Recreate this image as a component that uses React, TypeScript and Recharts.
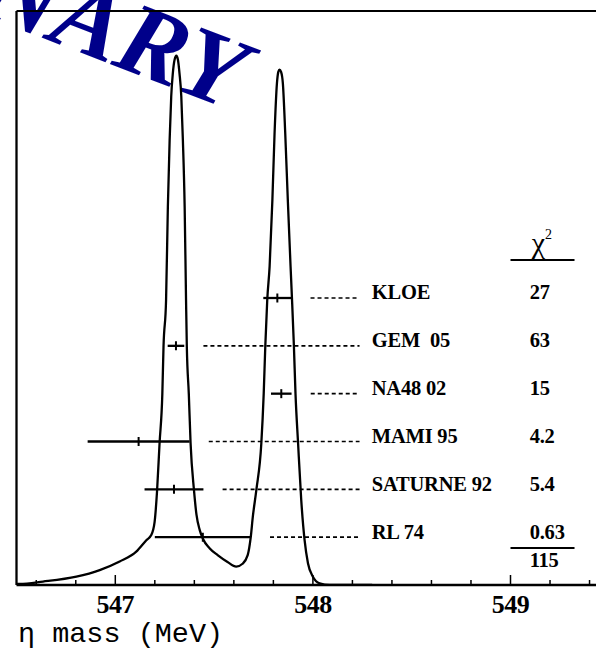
import React from 'react';
import { ComposedChart, Line, Scatter, XAxis, YAxis, ErrorBar, ReferenceLine } from 'recharts';

// Ideogram curve (eta mass in MeV, relative density)
const CURVE_MASS = [
  546.5, 546.516, 546.634, 546.803, 546.921, 547.022, 547.106, 547.157, 547.182, 547.199,
  547.211, 547.224, 547.238, 547.244, 547.257, 547.266, 547.275, 547.283, 547.291, 547.3,
  547.309, 547.317, 547.325, 547.334, 547.342, 547.351, 547.358, 547.362, 547.372, 547.381,
  547.398, 547.411, 547.427, 547.444, 547.477, 547.518, 547.568, 547.612, 547.644, 547.67,
  547.685, 547.696, 547.714, 547.739, 547.751, 547.759, 547.769, 547.781, 547.795, 547.806,
  547.818, 547.825, 547.831, 547.839, 547.848, 547.86, 547.873, 547.887, 547.894, 547.904,
  547.912, 547.925, 547.941, 547.958, 547.975, 548.0, 548.034, 548.085, 548.3,
];
const CURVE_DENSITY = [
  0.002, 0.002, 0.006, 0.0145, 0.026, 0.041, 0.058, 0.078, 0.087, 0.11,
  0.162, 0.247, 0.333, 0.415, 0.497, 0.659, 0.775, 0.851, 0.891, 0.915,
  0.922, 0.915, 0.891, 0.851, 0.775, 0.659, 0.497, 0.415, 0.333, 0.247,
  0.166, 0.122, 0.096, 0.08, 0.064, 0.052, 0.04, 0.032, 0.037, 0.052,
  0.082, 0.119, 0.166, 0.247, 0.333, 0.415, 0.497, 0.555, 0.671, 0.787,
  0.874, 0.894, 0.898, 0.894, 0.874, 0.787, 0.671, 0.555, 0.5, 0.415,
  0.333, 0.247, 0.148, 0.078, 0.038, 0.0145, 0.003, 0.0, 0.0,
];

// Measurements
const EXPERIMENTS = ['KLOE', 'GEM  05', 'NA48 02', 'MAMI 95', 'SATURNE 92', 'RL 74'];
const EXP_MASS = [547.82, 547.307, 547.84, 547.118, 547.297, 547.443];
const EXP_ERR = [0.071, 0.042, 0.052, 0.258, 0.149, 0.243];
const EXP_ROW = [6, 5, 4, 3, 2, 1];
const CHI2 = ['27', '63', '15', '4.2', '5.4', '0.63'];
const CHI2_TOTAL = '115';

const X_TICKS = [
  546.6, 546.8, 547, 547.2, 547.4, 547.6, 547.8, 548, 548.2, 548.4, 548.6, 548.8, 549, 549.2, 549.4,
];
const MAJOR_TICKS = [547, 548, 549];

// layout constants (in axis units)
const X_DOMAIN = [546.5, 549.5];
const ROW_DOMAIN = [0, 12];
const LEADER_GAP = 0.097;
const LEADER_END = 548.236;
const LABEL_X = 548.298;
const CHI_X = 549.097;
const CHI_HEADER_ROW = 6.94;
const CHI_TOTAL_ROW = 0.4;
const CHI_RULE_ROWS = [6.795, 0.774];
const CHI_RULE_X = [549.0, 549.324];

const SERIF = '"Liberation Serif", "Times New Roman", serif';
const CHART_W = 609.3;

const MassTick = (props: any) => {
  const { x, y, payload } = props;
  const major = MAJOR_TICKS.some((t) => Math.abs(t - payload.value) < 1e-6);
  return (
    <g>
      <line x1={x} x2={x} y1={y} y2={y - (major ? 10 : 5)} stroke="#000" strokeWidth={1.5} />
      {major && (
        <text x={x} y={y + 28} textAnchor="middle" fontFamily={SERIF} fontWeight="bold" fontSize={26} fill="#000" letterSpacing={-0.5}>
          {payload.value}
        </text>
      )}
    </g>
  );
};

const CenterTick = (props: any) => {
  const { cx, cy } = props;
  if (cx == null || cy == null) return null;
  return <line x1={cx} x2={cx} y1={cy - 4.5} y2={cy + 4.5} stroke="#000" strokeWidth={2} />;
};

const TextMark = (props: any) => {
  const { cx, cy, payload } = props;
  if (cx == null || cy == null) return null;
  if (payload.sup) {
    return (
      <text x={cx + 2} y={cy} fontFamily={SERIF} fontSize={30} fill="#000">
        {payload.text}
        <tspan fontSize={14} dy={-14}>{payload.sup}</tspan>
      </text>
    );
  }
  return (
    <text x={cx} y={cy + 1.5} fontFamily={SERIF} fontWeight="bold" fontSize={20.5} fill="#000" style={{ whiteSpace: 'pre' }} letterSpacing={-0.2}>
      {payload.text}
    </text>
  );
};

const AxisTitle = (props: any) => {
  const vb = props.viewBox || { x: 16.5, y: 585 };
  return (
    <text x={vb.x + 1.5} y={vb.y + 57} fontFamily='"Liberation Mono", "Courier New", monospace' fontSize={28.5} fill="#000">
      η mass (MeV)
    </text>
  );
};

export default function App() {
  const curve = CURVE_MASS.map((m, i) => ({ m, v: CURVE_DENSITY[i] }));
  const points = EXPERIMENTS.map((name, i) => ({ m: EXP_MASS[i], row: EXP_ROW[i], err: EXP_ERR[i] }));
  const labels = EXPERIMENTS.map((name, i) => ({ m: LABEL_X, row: EXP_ROW[i], text: name }));
  const chis = [
    ...CHI2.map((c, i) => ({ m: CHI_X, row: EXP_ROW[i], text: c })),
    { m: CHI_X, row: CHI_TOTAL_ROW, text: CHI2_TOTAL },
    { m: CHI_X, row: CHI_HEADER_ROW, text: 'χ', sup: '2' },
  ];

  return (
    <div
      style={{
        position: 'fixed',
        left: 0,
        top: 0,
        width: 596,
        height: 650,
        overflow: 'hidden',
        background: '#fff',
      }}
    >
      <svg width={596} height={650} style={{ position: 'absolute', left: 0, top: 0 }}>
        <text
          x={230}
          y={110}
          textAnchor="end"
          fontFamily={SERIF}
          fontStyle="italic"
          fontWeight="bold"
          fontSize={102}
          fill="#00008a"
          transform="rotate(21 230 110)"
        >
          PRELIMINARY
        </text>
      </svg>
      <div style={{ position: 'absolute', left: 0, top: 0 }}>
        <ComposedChart width={CHART_W} height={650} margin={{ top: 11, right: 0, bottom: 0, left: 16.5 }}>
          <XAxis
            type="number"
            dataKey="m"
            domain={X_DOMAIN}
            allowDataOverflow
            ticks={X_TICKS}
            interval={0}
            height={65}
            tickLine={false}
            tickSize={0}
            tickMargin={0}
            tick={<MassTick />}
            axisLine={{ stroke: '#000', strokeWidth: 2.5 }}
            label={{ content: <AxisTitle /> }}
          />
          <YAxis
            yAxisId="v"
            type="number"
            domain={[0, 1]}
            allowDataOverflow
            width={0}
            tick={false}
            tickLine={false}
            axisLine={false}
          />
          <YAxis yAxisId="rows" type="number" domain={ROW_DOMAIN} allowDataOverflow hide />

          <ReferenceLine yAxisId="v" y={1} stroke="#000" strokeWidth={2.2} ifOverflow="visible" />
          <ReferenceLine yAxisId="v" x={X_DOMAIN[0]} stroke="#000" strokeWidth={2.3} ifOverflow="visible" />

          {points.map((p, i) => (
            <ReferenceLine
              key={'lead' + i}
              yAxisId="rows"
              segment={[
                { x: p.m + p.err + LEADER_GAP, y: p.row },
                { x: LEADER_END, y: p.row },
              ]}
              stroke="#000"
              strokeWidth={1.6}
              strokeDasharray="4 3"
            />
          ))}
          {CHI_RULE_ROWS.map((r, i) => (
            <ReferenceLine
              key={'rule' + i}
              yAxisId="rows"
              segment={[
                { x: CHI_RULE_X[0], y: r },
                { x: CHI_RULE_X[1], y: r },
              ]}
              stroke="#000"
              strokeWidth={2}
            />
          ))}

          <Line
            yAxisId="v"
            data={curve}
            dataKey="v"
            type="monotone"
            dot={false}
            activeDot={false}
            stroke="#000"
            strokeWidth={2.3}
            isAnimationActive={false}
          />
          <Scatter yAxisId="rows" data={points} dataKey="row" shape={<CenterTick />} isAnimationActive={false}>
            <ErrorBar dataKey="err" direction="x" width={0} stroke="#000" strokeWidth={2.3} isAnimationActive={false} />
          </Scatter>
          <Scatter yAxisId="rows" data={labels} dataKey="row" shape={<TextMark />} isAnimationActive={false} />
          <Scatter yAxisId="rows" data={chis} dataKey="row" shape={<TextMark />} isAnimationActive={false} />
        </ComposedChart>
      </div>
    </div>
  );
}
